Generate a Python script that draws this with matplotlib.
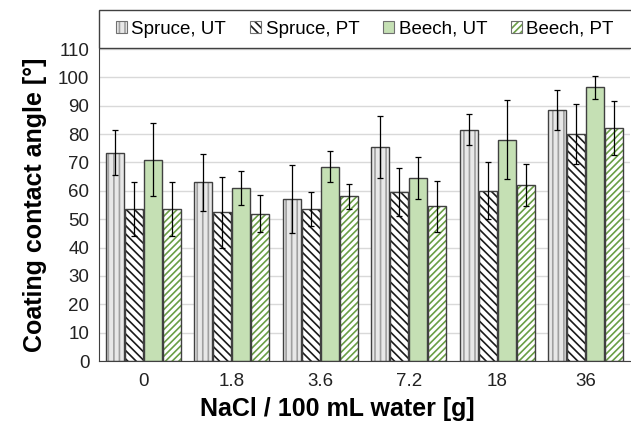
import numpy as np
import matplotlib
matplotlib.use("Agg")
import matplotlib.pyplot as plt
from matplotlib.patches import Rectangle

plt.rcParams['font.family'] = ['Liberation Sans', 'DejaVu Sans']
plt.rcParams['hatch.linewidth'] = 1.2

#%% Data
categories = ["0", "1.8", "3.6", "7.2", "18", "36"]
series_names = ["Spruce, UT", "Spruce, PT", "Beech, UT", "Beech, PT"]

spruce_ut = [73.5, 63.0, 57.0, 75.5, 81.5, 88.5]
spruce_ut_err = [8.0, 10.0, 12.0, 11.0, 5.5, 7.0]
spruce_pt = [53.5, 52.5, 53.5, 59.5, 60.0, 80.0]
spruce_pt_err = [9.5, 12.5, 6.0, 8.5, 10.0, 10.5]
beech_ut = [71.0, 61.0, 68.5, 64.5, 78.0, 96.5]
beech_ut_err = [13.0, 6.0, 5.5, 7.5, 14.0, 4.0]
beech_pt = [53.5, 52.0, 58.0, 54.5, 62.0, 82.0]
beech_pt_err = [9.5, 6.5, 4.5, 9.0, 7.5, 9.5]

values = [spruce_ut, spruce_pt, beech_ut, beech_pt]
errors = [spruce_ut_err, spruce_pt_err, beech_ut_err, beech_pt_err]

#%% Styles
faces = ["#e8e8e8", "white", "#c5e0b4", "white"]
hatch_colors = ["#a0a0a0", "#1a1a1a", "#c5e0b4", "#6a9e45"]
hatches = ["|||", "\\\\\\\\", None, "/////"]
edge = "#404040"

#%% Plot
fig = plt.figure(figsize=(6.31, 4.25), dpi=100)
ax = fig.add_axes([99 / 631, 1 - 361 / 425, 531 / 631, 312 / 425])

x = np.arange(len(categories))
width = 0.2
step = 0.215
offsets = (np.arange(4) - 1.5) * step

handles = []
for i in range(4):
	pos = x + offsets[i]
	ax.bar(pos, values[i], width, color=faces[i], hatch=hatches[i], edgecolor=hatch_colors[i], linewidth=0, zorder=2)
	ax.bar(pos, values[i], width, fill=False, edgecolor=edge, linewidth=1.0, zorder=3)
	ax.errorbar(pos, values[i], yerr=errors[i], fmt='none', ecolor='black', elinewidth=0.9, capsize=2, capthick=0.9, zorder=4)
	h_fill = Rectangle((0, 0), 1, 1, facecolor=faces[i], hatch=hatches[i], edgecolor=hatch_colors[i], linewidth=0)
	h_edge = Rectangle((0, 0), 1, 1, fill=False, edgecolor='#707070', linewidth=0.8)
	handles.append((h_fill, h_edge))

ax.set_xlim(-0.5, len(categories) - 0.5)
ax.set_ylim(0, 110)
ax.set_yticks(np.arange(0, 111, 10))
ax.set_xticks(x)
ax.set_xticklabels(categories)
ax.tick_params(axis='both', length=0, labelsize=13.5, colors='#222222')
ax.tick_params(axis='x', pad=9)
ax.tick_params(axis='y', pad=7)
ax.yaxis.grid(True, color='#d9d9d9', linewidth=1.0, zorder=0)
ax.set_axisbelow(True)
for s in ['top', 'right']:
	ax.spines[s].set_visible(False)
ax.spines['left'].set_color('#404040')
ax.spines['bottom'].set_color('#404040')

ax.set_xlabel("NaCl / 100 mL water [g]", fontsize=18, fontweight='bold')
ax.xaxis.set_label_coords((337 - 99) / 531, -0.115)
ax.set_ylabel("Coating contact angle [°]", fontsize=18, fontweight='bold', labelpad=8)

# legend box above the plot
fig.patches.append(Rectangle((99 / 631, 1 - 48 / 425), 0.9, 38 / 425, transform=fig.transFigure,
	facecolor='white', edgecolor='#404040', linewidth=1.0))
leg = fig.legend(handles, series_names, loc='center left', bbox_to_anchor=(108 / 631, 1 - 29 / 425),
	ncol=4, frameon=False, fontsize=13.5, handlelength=0.6, handleheight=0.6, handletextpad=0.25,
	columnspacing=1.25, borderaxespad=0)

fig.savefig("out.png", dpi=100)
